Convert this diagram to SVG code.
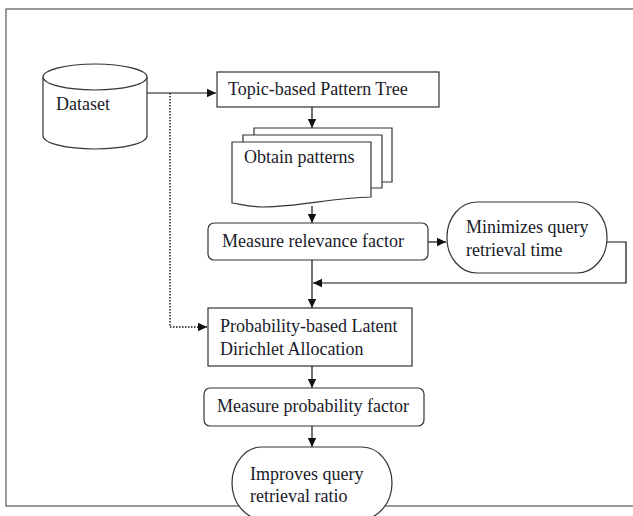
<svg xmlns="http://www.w3.org/2000/svg" width="633" height="516" viewBox="0 0 633 516">
<style>
.s{fill:#fff;stroke:#333;stroke-width:1.2}
.t{font-family:"Liberation Serif","Times New Roman",serif;font-size:18px;fill:#1a1a2a}
.c{fill:none;stroke:#111;stroke-width:1.2}
.d{fill:none;stroke:#111;stroke-width:1.4;stroke-dasharray:1.5 1.5}
</style>
<defs>
<marker id="ah" markerWidth="10" markerHeight="10" refX="9" refY="5" orient="auto" markerUnits="userSpaceOnUse">
<path d="M0,0.8 L9,5 L0,9.2 Z" fill="#111"/>
</marker>
</defs>
<rect x="6" y="9" width="700" height="497" fill="none" stroke="#555" stroke-width="1.2"/>
<g id="connectors">
<path class="c" d="M147,93 H216" marker-end="url(#ah)"/>
<path class="d" d="M170,93 V327 H207" marker-end="url(#ah)"/>
<path class="c" d="M312,107 V128" marker-end="url(#ah)"/>
<path class="c" d="M312,206 V223" marker-end="url(#ah)"/>
<path class="c" d="M428,242 H446" marker-end="url(#ah)"/>
<path class="c" d="M607,242 H626 V283 H313" marker-end="url(#ah)"/>
<path class="c" d="M312,260 V308" marker-end="url(#ah)"/>
<path class="c" d="M312,366 V388" marker-end="url(#ah)"/>
<path class="c" d="M312,426 V447" marker-end="url(#ah)"/>
</g>
<g id="dataset">
<path class="s" d="M43,77 V136 A52,13 0 0 0 147,136 V77 A52,13 0 0 0 43,77 Z"/>
<path class="s" fill="none" d="M43,77 A52,13 0 0 0 147,77"/>
<text class="t" x="56" y="110">Dataset</text>
</g>
<g id="topic">
<rect class="s" x="217" y="72" width="222" height="35"/>
<text class="t" x="228" y="95">Topic-based Pattern Tree</text>
</g>
<g id="patterns">
<path class="s" d="M254,128 H392 V182 H254 Z"/>
<path class="s" d="M243,135 H382 V188 H243 Z"/>
<path class="s" d="M232,142 H371 V197 C330,198 300,207 263,207 C250,207 240,204 232,203 Z"/>
<text class="t" x="244" y="163">Obtain patterns</text>
</g>
<g id="relevance">
<rect class="s" x="208" y="223" width="220" height="37" rx="6"/>
<text class="t" x="222" y="247">Measure relevance factor</text>
</g>
<g id="minimizes">
<rect class="s" x="447" y="202" width="160" height="71" rx="30" ry="35"/>
<text class="t" x="466" y="233">Minimizes query</text>
<text class="t" x="466" y="256">retrieval time</text>
</g>
<g id="lda">
<rect class="s" x="208" y="308" width="204" height="58"/>
<text class="t" x="220" y="332">Probability-based Latent</text>
<text class="t" x="220" y="355">Dirichlet Allocation</text>
</g>
<g id="probability">
<rect class="s" x="204" y="388" width="220" height="38" rx="6"/>
<text class="t" x="217" y="412">Measure probability factor</text>
</g>
<g id="improves">
<rect class="s" x="232" y="447" width="160" height="72" rx="30" ry="36"/>
<text class="t" x="250" y="480">Improves query</text>
<text class="t" x="250" y="502">retrieval ratio</text>
</g>
</svg>
